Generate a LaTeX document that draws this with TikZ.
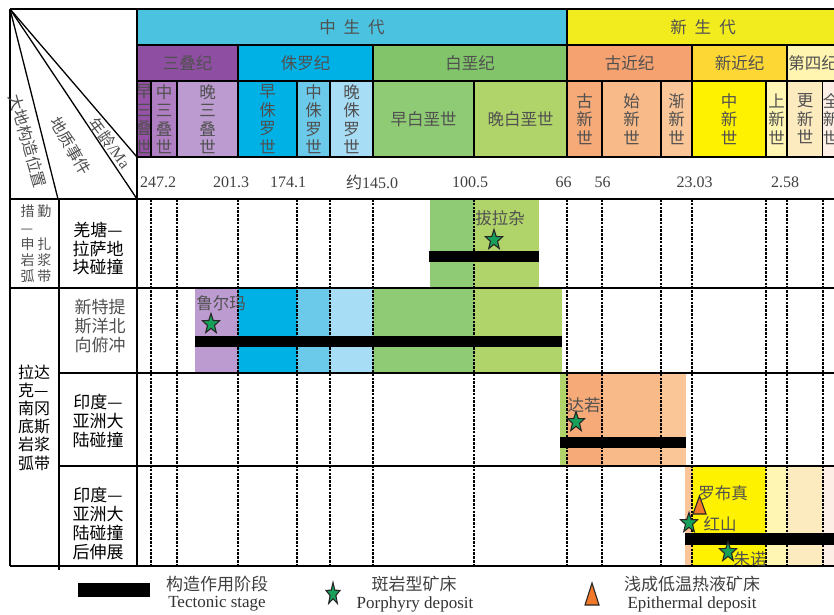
\documentclass[tikz,border=0pt]{standalone}
\usepackage{fontspec}
\setmainfont{Liberation Serif}
\newfontfamily\cjk{Noto Sans CJK SC}
\usetikzlibrary{shapes.geometric}
\definecolor{txtg}{HTML}{505050}
\definecolor{cMeso}{HTML}{4BC2E0}
\definecolor{cCeno}{HTML}{F2EC1E}
\definecolor{cTri}{HTML}{8E4FA2}
\definecolor{cJur}{HTML}{00B1E6}
\definecolor{cCre}{HTML}{82C46A}
\definecolor{cPal}{HTML}{F5A270}
\definecolor{cNeo}{HTML}{FDD835}
\definecolor{cQua}{HTML}{FFF5B0}
\definecolor{eTa}{HTML}{9652A6}
\definecolor{eTb}{HTML}{B07EC2}
\definecolor{eTc}{HTML}{BC9BD0}
\definecolor{eJa}{HTML}{00B1E6}
\definecolor{eJb}{HTML}{6BC9EA}
\definecolor{eJc}{HTML}{A8DDF6}
\definecolor{eKa}{HTML}{8FCB74}
\definecolor{eKb}{HTML}{B0D46A}
\definecolor{ePa}{HTML}{F5AA78}
\definecolor{ePb}{HTML}{F8BA88}
\definecolor{ePc}{HTML}{FAC597}
\definecolor{eNa}{HTML}{FFF200}
\definecolor{eNb}{HTML}{FFF6B4}
\definecolor{eQa}{HTML}{FDEBC0}
\definecolor{eQb}{HTML}{FDEFE6}
\definecolor{sgreen}{HTML}{16A05A}
\definecolor{torange}{HTML}{F07A2A}
\newcommand\gcell[7]{\node[hcell, fill=#6, minimum width={(#3)-(#2)}, minimum height={(#5)-(#4)}] (#1) at ({((#2)+(#3))/2},{((#4)+(#5))/2}) {#7};}
\begin{document}
\begin{tikzpicture}[x=1pt,y=-1pt,
  hcell/.style={draw=black, line width=1.2pt, inner sep=0pt, outer sep=0pt, text=txtg, align=center, font=\cjk\fontsize{16.5}{18.5}\selectfont},
  frameline/.style={line width=1.3pt, black},
  epochline/.style={line width=1.4pt, dash pattern=on 2.6pt off 1.2pt},
  agelbl/.style={inner sep=0pt, text=black!75, font=\fontsize{16}{18}\selectfont},
  evt/.style={inner sep=0pt, align=center, font=\cjk\fontsize{17}{18.8}\selectfont},
  deplbl/.style={inner sep=0pt, text=txtg, font=\cjk\fontsize{16.5}{18}\selectfont},
  diag/.style={inner sep=0pt, text=txtg, font=\cjk\fontsize{16}{17}\selectfont},
  deposit/.style={star, star points=5, star point ratio=2.4, minimum size=21pt, xscale=0.85, inner sep=0pt, fill=sgreen, draw=black!85, line width=1.1pt},
  tecbar/.style={fill=black, inner sep=0pt, outer sep=0pt, minimum height=11pt},
  epitri/.style={fill=torange, draw=black!85, line width=1.1pt, line join=miter},
  legcn/.style={inner sep=0pt, text=black!75, font=\cjk\fontsize{17}{19}\selectfont},
  legen/.style={inner sep=0pt, text=black!80, font=\fontsize{17}{19}\selectfont},
]
\useasboundingbox (0,0) rectangle (834,614);
\fill[white] (0,0) rectangle (834,614);
\clip (0,0) rectangle (834,614);

% ---------- coloured bands in the body ----------
% row 1
\fill[eKa] (430,199) rectangle (474,288);
\fill[eKb] (474,199) rectangle (539,288);
% row 2
\fill[eTc] (195,288) rectangle (238,373);
\fill[eJa] (238,288) rectangle (297,373);
\fill[eJb] (297,288) rectangle (330,373);
\fill[eJc] (330,288) rectangle (373,373);
\fill[eKa] (373,288) rectangle (474,373);
\fill[eKb] (474,288) rectangle (562,373);
% row 3
\fill[eKb] (560,373) rectangle (567,466);
\fill[ePa] (567,373) rectangle (602,466);
\fill[ePb] (602,373) rectangle (661,466);
\fill[ePc] (661,373) rectangle (686,466);
% row 4
\fill[ePc] (685,466) rectangle (692,566);
\fill[eNa] (692,466) rectangle (766,566);
\fill[eNb] (766,466) rectangle (787,566);
\fill[eQa] (787,466) rectangle (823,566);
\fill[eQb] (823,466) rectangle (839,566);

% ---------- dashed epoch lines ----------
\foreach \xx in {151,177,238,297,330,373,474,567,602,661,692,766,787,823}
  \draw[epochline] (\xx,199) -- (\xx,566);

% ---------- frame lines ----------
\draw[frameline] (10,9) -- (839,9);
\draw[frameline] (10,199) -- (839,199);
\draw[frameline] (10,288) -- (839,288);
\draw[frameline] (59,373) -- (839,373);
\draw[frameline] (59,466) -- (839,466);
\draw[frameline] (10,566) -- (839,566);
\draw[frameline] (10,9) -- (10,566);
\draw[frameline] (59,199) -- (59,570);
\draw[frameline] (137,9) -- (137,566);

% ---------- header ----------
\gcell{meso}{137}{567}{9}{45}{cMeso}{中\kern8pt生\kern8pt代}
\gcell{ceno}{567}{839}{9}{45}{cCeno}{新\kern8pt生\kern8pt代}
\gcell{tri}{137}{238}{45}{81}{cTri}{三叠纪}
\gcell{jur}{238}{373}{45}{81}{cJur}{侏罗纪}
\gcell{cre}{373}{567}{45}{81}{cCre}{白垩纪}
\gcell{pal}{567}{692}{45}{81}{cPal}{古近纪}
\gcell{neo}{692}{787}{45}{81}{cNeo}{新近纪}
\gcell{qua}{787}{839}{45}{81}{cQua}{第四纪}
\begin{scope}
\clip (137,81) rectangle (151,157);
\gcell{ta}{137}{151}{81}{157}{eTa}{早\\三\\叠\\世}
\end{scope}
\draw[line width=1.2pt] (137,81) rectangle (151,157);
\gcell{tb}{151}{177}{81}{157}{eTb}{中\\三\\叠\\世}
\gcell{tc}{177}{238}{81}{157}{eTc}{晚\\三\\叠\\世}
\gcell{ja}{238}{297}{81}{157}{eJa}{早\\侏\\罗\\世}
\gcell{jb}{297}{330}{81}{157}{eJb}{中\\侏\\罗\\世}
\gcell{jc}{330}{373}{81}{157}{eJc}{晚\\侏\\罗\\世}
\gcell{ka}{373}{474}{81}{157}{eKa}{早白垩世}
\gcell{kb}{474}{567}{81}{157}{eKb}{晚白垩世}
\gcell{pa}{567}{602}{81}{157}{ePa}{古\\新\\世}
\gcell{pb}{602}{661}{81}{157}{ePb}{始\\新\\世}
\gcell{pc}{661}{692}{81}{157}{ePc}{渐\\新\\世}
\gcell{na}{692}{766}{81}{157}{eNa}{中\\新\\世}
\gcell{nb}{766}{787}{81}{157}{eNb}{上\\新\\世}
\gcell{qa}{787}{823}{81}{157}{eQa}{更\\新\\世}
\gcell{qb}{823}{839}{81}{157}{eQb}{全\\新\\世}

% ages
\node[agelbl] (a1) at (158,182) {247.2};
\node[agelbl] (a2) at (231,182) {201.3};
\node[agelbl] (a3) at (288,182) {174.1};
\node[agelbl] (a4) at (372,182) {{\cjk 约}145.0};
\node[agelbl] (a5) at (470,182) {100.5};
\node[agelbl] (a6) at (563.5,182) {66};
\node[agelbl] (a7) at (602.5,182) {56};
\node[agelbl] (a8) at (694.5,182) {23.03};
\node[agelbl] (a9) at (785,182) {2.58};

% diagonal header
\coordinate (tl) at (10,9);
\coordinate (d1) at (58,199);
\coordinate (d2) at (137,199);
\coordinate (d3) at (137,157);
\draw[frameline] (tl) -- (d1);
\draw[frameline] (tl) -- (d2);
\draw[frameline] (tl) -- (d3);
\node[diag, rotate=-74] (h1) at (28,141) {大地构造位置};
\node[diag, rotate=-60] (h2) at (71,146) {地质事件};
\node[diag, rotate=-53] (h3) at (110,143) {年龄{\rmfamily /Ma}};

% left columns
\node[inner sep=0pt, align=left, text=txtg, font=\cjk\fontsize{14}{16.3}\selectfont] (z1) at (36,244) {措\kern3pt勤\\—\\申\kern3pt扎\\岩\kern3pt浆\\弧\kern3pt带};
\node[inner sep=0pt, align=left, text=black, font=\cjk\fontsize{16}{18.2}\selectfont] (z2) at (34,417.5) {拉达\\克—\\南冈\\底斯\\岩浆\\弧带};
\node[evt, text=black] (ev1) at (98,248.5) {羌塘—\\拉萨地\\块碰撞};
\node[evt, text=txtg] (ev2) at (100,326) {新特提\\斯洋北\\向俯冲};
\node[evt, text=black] (ev3) at (98,421) {印度—\\亚洲大\\陆碰撞};
\node[evt, text=black] (ev4) at (98,523.5) {印度—\\亚洲大\\陆碰撞\\后伸展};

% tectonic bars
\node[tecbar, minimum width=110pt] (bar1) at (484,256.5) {};
\node[tecbar, minimum width=367pt] (bar2) at (378.5,341.5) {};
\node[tecbar, minimum width=126pt] (bar3) at (623,442) {};
\node[tecbar, minimum width=154pt, minimum height=12pt] (bar4) at (762,539) {};

% deposits
\node[deposit] (s1) at (494,240) {};
\node[deplbl] (l1) at (500,218) {拔拉杂};
\node[deposit] (s2) at (211,324) {};
\node[deplbl] (l2) at (221,303) {鲁尔玛};
\node[deposit] (s3) at (576,422) {};
\node[deplbl] (l3) at (584,405) {达若};
\coordinate (t1) at (699.5,505);
\draw[epitri] (693,514) -- (699.5,496) -- (706,514) -- cycle;
\node[deplbl] (l4) at (723,493) {罗布真};
\node[deposit] (s4) at (689,523) {};
\node[deplbl] (l5) at (720,524) {红山};
\node[deposit] (s5) at (728,552) {};
\node[deplbl] (l6) at (750,559) {朱诺};

% legend
\node[tecbar, minimum width=72pt, minimum height=14pt] (kbar) at (114,590) {};
\node[legcn] (k1) at (217,584) {构造作用阶段};
\node[legen] (k1e) at (217,604) {Tectonic stage};
\node[deposit, minimum size=23pt, xscale=0.75] (kstar) at (333,594) {};
\node[legcn] (k2) at (414,584) {斑岩型矿床};
\node[legen] (k2e) at (415,604) {Porphyry deposit};
\coordinate (ktri) at (592,594);
\draw[epitri] (585,605) -- (592,583) -- (599,605) -- cycle;
\node[legcn] (k3) at (692,584) {浅成低温热液矿床};
\node[legen] (k3e) at (692,604) {Epithermal deposit};
\end{tikzpicture}
\end{document}
